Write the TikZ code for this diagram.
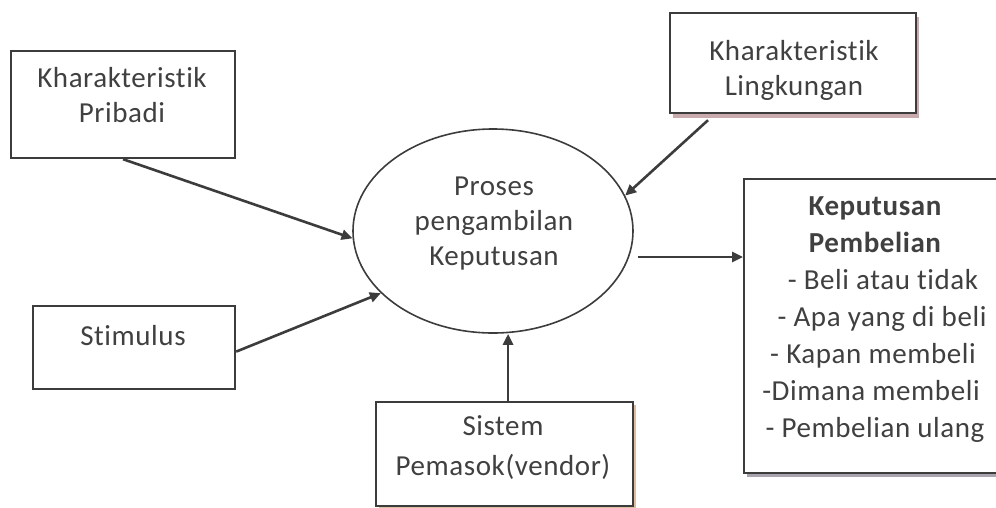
\documentclass[tikz,border=0pt]{standalone}
\usepackage{fontspec}
\setmainfont{Carlito}[Ligatures=NoCommon,LetterSpace=2]
\usetikzlibrary{arrows.meta,calc,shapes.geometric}
\definecolor{ln}{HTML}{3C3C3C}
\definecolor{tx}{HTML}{404040}
\definecolor{shL}{HTML}{C9ABAD}
\definecolor{shS}{HTML}{DDBE9E}
\definecolor{shK}{HTML}{A9A3AE}
\begin{document}
\begin{tikzpicture}[x=1pt,y=-1pt,
  box/.style={draw=ln,line width=2.2pt,fill=white,anchor=north west,inner sep=0pt},
  lbl/.style={text=tx,font=\fontsize{29}{35}\selectfont,align=center,inner sep=0pt,anchor=base},
  arr/.style={draw=ln,line width=2.6pt,-{Triangle[length=11pt,width=10pt]}}]
\useasboundingbox (0,0) rectangle (996,507);
% shadows
\fill[shL] (673,17) rectangle (919,118);
\fill[shS] (379,405) rectangle (636,512);
\fill[shK] (747,183) rectangle (1020,477);
% boxes
\node[box,minimum width=224pt,minimum height=107pt] (p) at (10,50) {};
\node[box,minimum width=246pt,minimum height=100pt] (l) at (669,12) {};
\node[box,minimum width=202pt,minimum height=83pt] (s) at (32,305) {};
\node[box,minimum width=257pt,minimum height=104pt] (sys) at (375,401) {};
\node[box,minimum width=275pt,minimum height=294pt] (k) at (743,178) {};
\node[draw=ln,line width=1.6pt,ellipse,minimum width=280pt,minimum height=204pt,inner sep=0pt] (e) at (493,231) {};
% labels
\node[lbl] (pt1) at (122,87) {Kharakteristik};
\node[lbl] (pt2) at (122,122) {Pribadi};
\node[lbl] (lt1) at (794,60) {Kharakteristik};
\node[lbl] (lt2) at (794,95) {Lingkungan};
\node[lbl] (et1) at (494,195) {Proses};
\node[lbl] (et2) at (494,230) {pengambilan};
\node[lbl] (et3) at (494,265) {Keputusan};
\node[lbl] (st) at (133,345) {Stimulus};
\node[lbl] (yt1) at (503,435) {Sistem};
\node[lbl] (yt2) at (503,475) {Pemasok(vendor)};
\node[lbl,font=\fontsize{29}{35}\selectfont\bfseries] (kt1) at (875,215) {Keputusan};
\node[lbl,font=\fontsize{29}{35}\selectfont\bfseries] (kt2) at (875,252) {Pembelian};
\node[lbl] (kt3) at (883,289) {- Beli atau tidak};
\node[lbl] (kt4) at (882,326) {- Apa yang di beli};
\node[lbl] (kt5) at (873,363) {- Kapan membeli};
\node[lbl] (kt6) at (871,400) {-Dimana membeli};
\node[lbl] (kt7) at (875,437) {- Pembelian ulang};
% connectors
\draw[arr] (p.south) -- (e.183);
\draw[arr] ($(l.south west)+(39,6)$) -- (e.15.5);
\draw[arr] ($(s.east)+(0,4)$) -- (e.209);
\draw[arr] ([xshift=3.5pt]sys.north) -- ([xshift=3.5pt]sys.north |- e.south);
\coordinate (o) at ($(e.east)+(4,26)$);
\draw[arr] (o) -- (o -| k.west);
\end{tikzpicture}
\end{document}
